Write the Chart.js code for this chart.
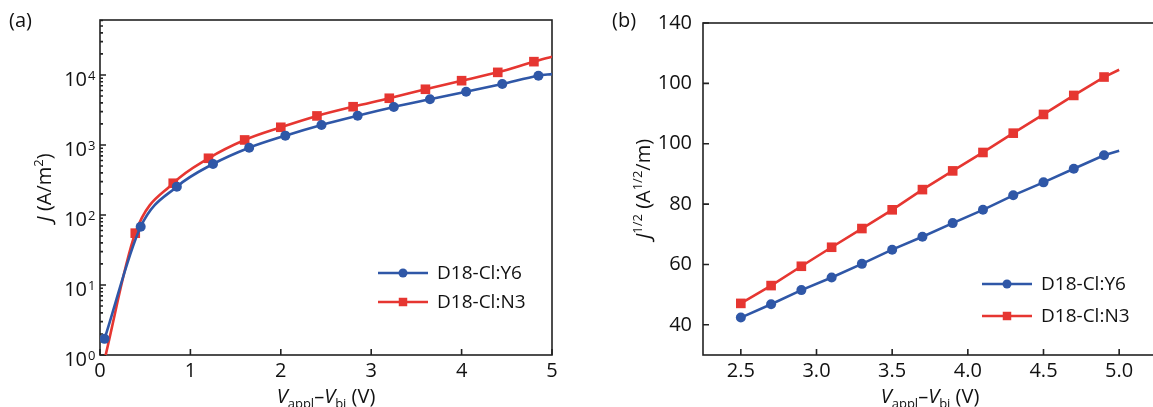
<!DOCTYPE html>
<html>
<head>
<meta charset="utf-8">
<script src="https://cdn.jsdelivr.net/npm/chart.js@4.4.1/dist/chart.umd.min.js"></script>
<style>
  html, body { margin: 0; padding: 0; background: #fff; overflow: hidden; }
  body { width: 1153px; height: 407px; position: relative; }
  canvas { position: absolute; top: 0; }
  #chartA { left: 0; }
  #chartB { left: 600px; }
</style>
</head>
<body>
<canvas id="chartA" width="580" height="407"></canvas>
<canvas id="chartB" width="600" height="407"></canvas>
<script>
// (a) J–V curves, log scale. Last entry of each series is the curve end (no marker).
const voltY6A = [0.05, 0.45, 0.85, 1.25, 1.65, 2.05, 2.45, 2.85, 3.25, 3.65, 4.05, 4.45, 4.85, 5.0];
const jY6A    = [1.7, 68, 254, 535, 915, 1360, 1930, 2620, 3490, 4500, 5770, 7440, 9770, 10300];
const voltN3A = [0.045, 0.39, 0.81, 1.2, 1.6, 2.0, 2.4, 2.8, 3.2, 3.6, 4.0, 4.4, 4.8, 5.0];
const jN3A    = [0.8, 55, 284, 646, 1180, 1790, 2600, 3520, 4650, 6250, 8290, 10900, 15500, 18250];

// (b) J^1/2 vs V
const voltB     = [2.5, 2.7, 2.9, 3.1, 3.3, 3.5, 3.7, 3.9, 4.1, 4.3, 4.5, 4.7, 4.9, 5.0];
const sqrtJY6B  = [42.4, 46.8, 51.5, 55.7, 60.2, 64.9, 69.2, 73.7, 78.1, 82.9, 87.2, 91.7, 96.2, 97.7];
const sqrtJN3B  = [47.1, 53.0, 59.4, 65.7, 71.9, 78.1, 84.8, 91.0, 97.1, 103.5, 109.7, 116.0, 122.1, 124.5];

const seriesNames = ['D18-Cl:Y6', 'D18-Cl:N3'];

const xTicksA = [0, 1, 2, 3, 4, 5];
const decadesA = [0, 1, 2, 3, 4];
const xTicksB = [2.5, 3.0, 3.5, 4.0, 4.5, 5.0];
const yTicksB = [40, 60, 80, 100, 120, 140];
const yTickLabelsB = ['40', '60', '80', '100', '100', '140'];

const FONT = "'Open Sans', 'DejaVu Sans', sans-serif";
const INK = '#111';
const BLUE = '#2f57a7';
const RED = '#e63631';

const xTitle = [{ t: 'V', i: true }, { t: 'appl', s: 'sub' }, { t: '\u2013' }, { t: 'V', i: true }, { t: 'bi', s: 'sub' }, { t: ' (V)' }];
const yTitleA = [{ t: 'J', i: true }, { t: ' (A/m' }, { t: '2', s: 'sup' }, { t: ')' }];
const yTitleB = [{ t: 'J', i: true }, { t: '1/2', s: 'sup' }, { t: ' (A' }, { t: '1/2', s: 'sup' }, { t: '/m)' }];

Chart.defaults.font.family = FONT;
Chart.defaults.color = INK;

function drawRich(ctx, parts, x, y, vertical) {
  const fontOf = p => (p.i ? 'italic ' : '') + (p.s ? 13 : 20) + 'px ' + FONT;
  let total = 0;
  const widths = parts.map(p => {
    ctx.font = fontOf(p);
    const w = ctx.measureText(p.t).width;
    total += w;
    return w;
  });
  ctx.save();
  ctx.translate(x, y);
  if (vertical) ctx.rotate(-Math.PI / 2);
  ctx.fillStyle = INK;
  ctx.textAlign = 'left';
  ctx.textBaseline = 'alphabetic';
  let cx = -total / 2;
  parts.forEach((p, i) => {
    ctx.font = fontOf(p);
    const dy = p.s === 'sub' ? 5 : p.s === 'sup' ? -8 : 0;
    ctx.fillText(p.t, cx, dy);
    cx += widths[i];
  });
  ctx.restore();
}

// box, inward ticks, titles, panel tag and legend
const decor = {
  id: 'decor',
  beforeDatasetsDraw(chart, args, opts) {
    const { ctx, chartArea: a, scales } = chart;
    ctx.save();
    ctx.strokeStyle = '#222';
    ctx.lineWidth = 1.6;
    ctx.beginPath();
    scales.x.ticks.forEach(t => {
      const px = scales.x.getPixelForValue(t.value);
      ctx.moveTo(px, a.bottom);
      ctx.lineTo(px, a.bottom - 6);
    });
    scales.y.ticks.forEach(t => {
      const py = scales.y.getPixelForValue(t.value);
      const major = opts.isMajor ? opts.isMajor(t.value) : true;
      ctx.moveTo(a.left, py);
      ctx.lineTo(a.left + (major ? 6 : 3), py);
    });
    ctx.stroke();
    ctx.strokeRect(a.left, a.top, a.right - a.left, a.bottom - a.top);
    ctx.restore();
  },
  afterDraw(chart, args, opts) {
    const { ctx, chartArea: a, scales } = chart;
    ctx.save();
    ctx.fillStyle = INK;
    ctx.font = '20px ' + FONT;
    ctx.textAlign = 'left';
    ctx.textBaseline = 'alphabetic';
    ctx.fillText(opts.tag, opts.tagX, 27);

    if (opts.powerLabels) {
      opts.powerLabels.forEach(k => {
        const py = scales.y.getPixelForValue(Math.pow(10, k));
        ctx.font = '20px ' + FONT;
        ctx.textAlign = 'right';
        ctx.fillText('10', 87, py + 11);
        ctx.font = '13px ' + FONT;
        ctx.textAlign = 'left';
        ctx.fillText(String(k), 88, py + 5);
      });
    }

    drawRich(ctx, xTitle, (a.left + a.right) / 2, 403, false);
    drawRich(ctx, opts.yTitle, opts.yTitleX, (a.top + a.bottom) / 2, true);

    const lg = opts.legend;
    chart.data.datasets.forEach((ds, i) => {
      const y = lg.y + i * lg.gap;
      ctx.strokeStyle = ds.borderColor;
      ctx.lineWidth = ds.borderWidth;
      ctx.beginPath();
      ctx.moveTo(lg.x, y);
      ctx.lineTo(lg.x + 50, y);
      ctx.stroke();
      ctx.fillStyle = ds.backgroundColor;
      Chart.helpers.drawPoint(ctx, {
        pointStyle: ds.pointStyle,
        radius: ds.pointStyle === 'rect' ? 6 : 4.5,
        borderWidth: 0
      }, lg.x + 25, y);
      ctx.fillStyle = INK;
      ctx.font = '19px ' + FONT;
      ctx.textAlign = 'left';
      ctx.textBaseline = 'middle';
      ctx.fillText(ds.label, lg.x + 59, y + 1);
    });
    ctx.restore();
  }
};

function series(label, xs, ys, color, style, radius, smooth) {
  return {
    label: label,
    data: xs.map((v, i) => ({ x: v, y: ys[i] })),
    borderColor: color,
    backgroundColor: color,
    borderWidth: 2.6,
    pointStyle: style,
    pointRadius: ctx => (ctx.dataIndex < xs.length - 1 ? radius : 0),
    pointBorderWidth: 0,
    pointHoverRadius: 0,
    cubicInterpolationMode: smooth ? 'monotone' : 'default',
    tension: 0
  };
}

const hiddenGrid = { display: false, drawTicks: false };

new Chart(document.getElementById('chartA'), {
  type: 'line',
  data: {
    datasets: [
      series(seriesNames[0], voltY6A, jY6A, BLUE, 'circle', 5, true),
      series(seriesNames[1], voltN3A, jN3A, RED, 'rect', 6.8, true)
    ]
  },
  options: {
    responsive: false,
    animation: false,
    layout: { padding: { top: 20, right: 28, left: 0, bottom: 0 } },
    scales: {
      x: {
        type: 'linear', min: 0, max: 5,
        grid: hiddenGrid, border: { display: false },
        afterBuildTicks: s => { s.ticks = xTicksA.map(v => ({ value: v })); },
        afterFit: s => { s.height = 52; },
        ticks: { font: { size: 20 }, padding: 4, maxRotation: 0, autoSkip: false, callback: v => String(v) }
      },
      y: {
        type: 'logarithmic', min: 1, max: 61000,
        grid: hiddenGrid, border: { display: false },
        afterBuildTicks: s => {
          const t = [];
          decadesA.forEach(k => {
            for (let m = 1; m <= 9; m++) {
              const v = m * Math.pow(10, k);
              if (v <= s.max) t.push({ value: v });
            }
          });
          s.ticks = t;
        },
        afterFit: s => { s.width = 100; },
        ticks: { display: false, autoSkip: false }
      }
    },
    plugins: {
      legend: { display: false },
      tooltip: { enabled: false },
      decor: {
        tag: '(a)', tagX: 9,
        isMajor: v => Math.abs(Math.log10(v) - Math.round(Math.log10(v))) < 1e-9,
        powerLabels: decadesA,
        yTitle: yTitleA, yTitleX: 51,
        legend: { x: 378, y: 273, gap: 29 }
      }
    }
  },
  plugins: [decor]
});

new Chart(document.getElementById('chartB'), {
  type: 'line',
  data: {
    datasets: [
      series(seriesNames[0], voltB, sqrtJY6B, BLUE, 'circle', 5, false),
      series(seriesNames[1], voltB, sqrtJN3B, RED, 'rect', 6.8, false)
    ]
  },
  options: {
    responsive: false,
    animation: false,
    layout: { padding: { top: 20, right: 43, left: 0, bottom: 0 } },
    scales: {
      x: {
        type: 'linear', min: 2.25, max: 5.25,
        grid: hiddenGrid, border: { display: false },
        afterBuildTicks: s => { s.ticks = xTicksB.map(v => ({ value: v })); },
        afterFit: s => { s.height = 52; },
        ticks: { font: { size: 20 }, padding: 4, maxRotation: 0, autoSkip: false, callback: v => v.toFixed(1) }
      },
      y: {
        type: 'linear', min: 30, max: 140,
        grid: hiddenGrid, border: { display: false },
        afterBuildTicks: s => { s.ticks = yTicksB.map(v => ({ value: v })); },
        afterFit: s => { s.width = 103; },
        ticks: { font: { size: 20 }, padding: 11, autoSkip: false, callback: (v, i) => yTickLabelsB[i] }
      }
    },
    plugins: {
      legend: { display: false },
      tooltip: { enabled: false },
      decor: {
        tag: '(b)', tagX: 12,
        yTitle: yTitleB, yTitleX: 50,
        legend: { x: 382, y: 284, gap: 32 }
      }
    }
  },
  plugins: [decor]
});
</script>
</body>
</html>
